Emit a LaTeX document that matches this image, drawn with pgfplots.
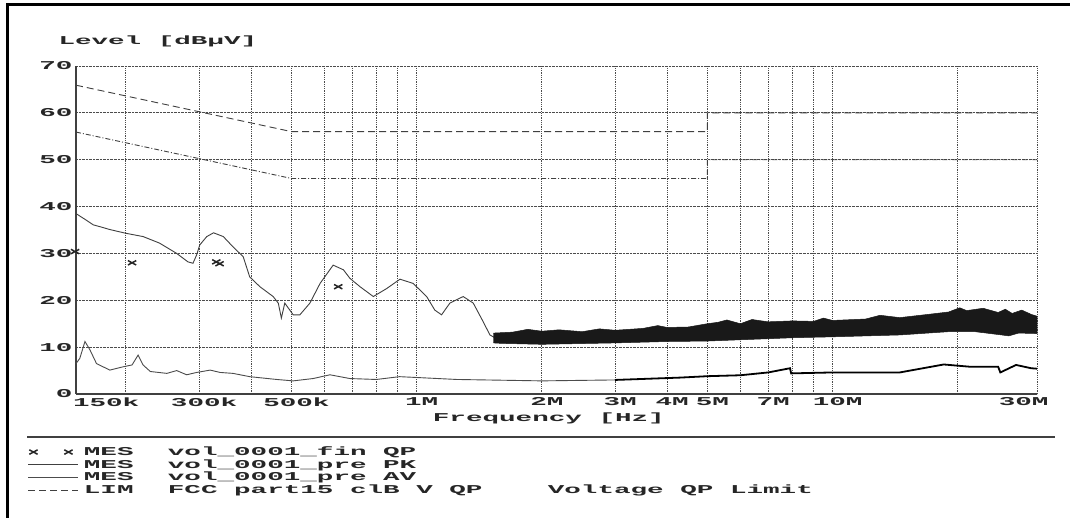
\documentclass[border=0pt]{standalone}
\usepackage{fontspec}
\usepackage{pgfplots}
\pgfplotsset{compat=1.18}
\newfontfamily\chartfont[FakeStretch=2.3]{Liberation Mono}
\newcommand\cf{\chartfont\bfseries\fontsize{12bp}{12bp}\selectfont\color{black!85}}
\pgfplotsset{
  lineleg/.style={legend image code/.code={\draw[##1] (0bp,0bp) -- (50bp,0bp);}},
  markleg/.style={legend image code/.code={\draw[##1, only marks] plot coordinates {(5bp,0bp) (40bp,0bp)};}},
}

\begin{document}
\begin{tikzpicture}
\useasboundingbox (0,0) rectangle (1070bp,518bp);
\fill[white] (0,0) rectangle (1070bp,518bp);
\draw[line width=3bp] (7bp,0bp) -- (7bp,513bp) -- (1070bp,513bp);
\draw[line width=1.6bp, black!75] (27bp,81bp) -- (1055bp,81bp);
\begin{axis}[
  at={(76bp,124bp)}, anchor=south west,
  scale only axis, width=961bp, height=328bp,
  xmode=log, log basis x=10,
  xmin=151.8e3, xmax=31e6, ymin=0, ymax=70,
  clip=false,
  xtick={151.8e3,3e5,5e5,1e6,2e6,3e6,4e6,5e6,7e6,1e7,3e7},
  xticklabels={\makebox[0pt][l]{\hspace*{-8bp}150k},300k,500k,1M,2M,3M,4M,5M,7M,10M,\makebox[0pt]{\hspace*{-25bp}30M}},
  minor xtick={2e5,3e5,4e5,5e5,6e5,7e5,8e5,9e5,1e6,2e6,3e6,4e6,5e6,6e6,7e6,8e6,9e6,1e7,2e7,31e6},
  ytick={0,10,20,30,40,50,60,70},
  yticklabels={0,10,20,30,40,50,60,70},
  xmajorgrids=false, xminorgrids=true, ymajorgrids=true,
  major tick length=0pt, minor tick length=0pt,
  grid style={densely dotted, black!70, line width=0.8bp},
  minor grid style={densely dotted, black!70, line width=0.8bp},
  axis x line*=bottom, axis y line*=left,
  axis line style={-, black!75, line width=1.4bp},
  ticklabel style={font=\cf},
  xticklabel style={xshift=5bp},
  xlabel={Frequency [Hz]},
  ylabel={Level [dBµV]},
  every axis x label/.style={at={(axis description cs:0.492,-0.073)}, anchor=center, font=\cf},
  every axis y label/.style={at={(axis description cs:-0.0219,1.076)}, anchor=west, font=\cf},
  legend style={at={(axis description cs:-0.04995,-0.1607)}, anchor=north west,
    draw=none, fill=none, inner sep=0pt, outer sep=0pt, font=\cf,
    nodes={inner sep=0pt, text height=8.7bp, text depth=2bp},
    column sep=5bp, row sep=2bp},
  legend cell align=left,
]
% QP final measurement markers
\addplot[only marks, mark=x, mark size=4.5bp, black!85,
  mark options={xscale=1.3, yscale=0.7, line width=1.5bp}, markleg]
  coordinates {(151e3,30.4) (207e3,28.0) (330e3,28.2) (336e3,27.8) (648e3,22.9)};
\addlegendentry{\makebox[84bp][l]{MES}vol\_0001\_fin QP}

% PK pre-scan (thin part)
\addplot[black!75, line width=0.9bp, lineleg]
  coordinates {
  (151.8e3,38.5) (160e3,37.2) (167e3,36.1) (175e3,35.6) (183e3,35.1) (200e3,34.3) (220e3,33.6)
  (241e3,32.2) (265e3,30.0) (282e3,28.2) (290e3,27.9) (296e3,29.7)
  (301e3,31.8) (313e3,33.6) (325e3,34.4) (343e3,33.6) (362e3,31.4)
  (383e3,29.3) (397e3,25.0) (420e3,22.9) (452e3,20.8) (465e3,19.4)
  (473e3,16.2) (482e3,19.4) (505e3,16.9) (524e3,16.9) (554e3,19.4)
  (586e3,23.6) (630e3,27.5) (667e3,26.5) (691e3,24.7) (731e3,22.9)
  (787e3,20.8) (847e3,22.5) (912e3,24.5) (981e3,23.6) (1057e3,20.8)
  (1106e3,17.9) (1148e3,16.9) (1202e3,19.4) (1294e3,20.8) (1368e3,19.4)
  (1446e3,15.4) (1500e3,12.6) (1557e3,11.8)
  };
\addlegendentry{\makebox[84bp][l]{MES}vol\_0001\_pre PK}

% PK pre-scan (noisy band, upper then lower envelope)
\addplot[forget plot, fill=black!90, draw=black!90, line width=0.5bp]
  coordinates {
  (1.53e6,13.0) (1.7e6,13.2) (1.85e6,13.8) (2.0e6,13.4) (2.2e6,13.7) (2.5e6,13.3)
  (2.75e6,13.9) (3.0e6,13.6) (3.5e6,14.0) (3.8e6,14.6) (4.0e6,14.2) (4.5e6,14.3) (5.0e6,15.0)
  (5.3e6,15.3) (5.57e6,15.8) (6e6,15.0) (6.4e6,15.9) (7e6,15.4) (8e6,15.6)
  (9e6,15.5) (9.5e6,16.2) (10e6,15.7) (12e6,16.0) (13e6,16.8) (14.5e6,16.3) (17e6,17.0)
  (19e6,17.5) (20.2e6,18.4) (21e6,17.8) (23e6,18.3) (25e6,17.4)
  (26e6,18.1) (27e6,17.2) (28.5e6,17.9) (30e6,17.0) (31e6,16.6)
  (31e6,12.9) (28e6,13.0) (26.5e6,12.4) (25.5e6,12.6) (22e6,13.3)
  (19e6,13.3) (14.5e6,12.6) (10e6,12.2) (8e6,12.0) (7e6,11.8)
  (5e6,11.3) (4e6,11.2) (3e6,10.9) (2e6,10.6) (1.6e6,10.8) (1.53e6,10.9)
  };

% AV pre-scan
\addplot[black!70, line width=0.9bp, lineleg]
  coordinates {
  (151.8e3,6.5) (155e3,7.6) (159.5e3,11.2) (164e3,9.4) (170e3,6.5)
  (183e3,5.1) (197e3,5.8) (207e3,6.2) (214e3,8.3) (220e3,6.2)
  (229e3,4.8) (251e3,4.4) (265e3,5.0) (280e3,4.1) (296e3,4.6)
  (319e3,5.1) (337e3,4.6) (362e3,4.4) (397e3,3.7) (461e3,3.1)
  (505e3,2.8) (564e3,3.3) (619e3,4.1) (691e3,3.3) (800e3,3.1)
  (910e3,3.7) (1.25e6,3.1) (2e6,2.8) (3e6,3.0)
  };
\addlegendentry{\makebox[84bp][l]{MES}vol\_0001\_pre AV}
\addplot[forget plot, black, line width=1.8bp]
  coordinates {
  (3e6,3.0) (4.3e6,3.5) (5e6,3.8) (6e6,4.0) (7e6,4.6) (7.9e6,5.5)
  (7.95e6,4.4) (10e6,4.6) (14.5e6,4.6) (18.5e6,6.3) (21.5e6,5.8)
  (25e6,5.8) (25.3e6,4.6) (27.6e6,6.2) (30e6,5.5) (31e6,5.4)
  };

% Limits
\addplot[black!75, line width=0.9bp, dash pattern=on 7bp off 4bp, lineleg]
  coordinates {(151.8e3,65.9) (5e5,56) (5e6,56) (5e6,60) (31e6,60)};
\addlegendentry{\makebox[84bp][l]{LIM}\makebox[380bp][l]{FCC part15 clB V QP}Voltage QP Limit}
\addplot[forget plot, black!75, line width=0.9bp, dash pattern=on 5bp off 2bp on 1bp off 2bp]
  coordinates {(151.8e3,55.9) (5e5,46) (5e6,46) (5e6,50) (31e6,50)};
\end{axis}
\end{tikzpicture}
\end{document}
